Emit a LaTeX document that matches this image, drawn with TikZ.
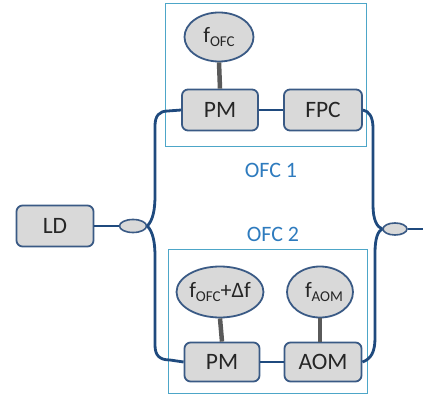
\documentclass[tikz,border=0pt]{standalone}
\usepackage{fontspec}
\setmainfont{Carlito}
\usetikzlibrary{shapes.geometric}
\definecolor{boxfill}{HTML}{D9D9D9}
\definecolor{boxline}{HTML}{3A5A85}
\definecolor{fiber}{HTML}{1F4A7E}
\definecolor{frameblue}{HTML}{4DA6C8}
\definecolor{labelblue}{HTML}{2E7BBE}
\definecolor{stemgray}{HTML}{5A5A5A}
\definecolor{inktext}{HTML}{262626}
\newcommand{\sbs}[1]{\raisebox{-0.35ex}{\fontsize{15}{15}\selectfont #1}}
\begin{document}
\begin{tikzpicture}[x=1pt,y=-1pt,
  device/.style={draw=boxline, line width=1.8pt, fill=boxfill, rounded corners=6pt,
    minimum height=41pt, inner sep=0pt, text=inktext, font=\fontsize{23.5}{23.5}\selectfont},
  source/.style={ellipse, draw=boxline, line width=1.8pt, fill=boxfill,
    inner sep=0pt, text=inktext, font=\fontsize{22}{22}\selectfont},
  coupler/.style={ellipse, draw=boxline, line width=1.6pt, fill=boxfill, inner sep=0pt},
  fibre/.style={draw=fiber, line width=2.8pt},
  stem/.style={draw=stemgray, line width=4.5pt},
  frame/.style={draw=frameblue, line width=1pt},
  combname/.style={text=labelblue, font=\fontsize{22}{22}\selectfont}]
\useasboundingbox (0,0) rectangle (423,395);

% comb frames
\node[frame, minimum width=201pt, minimum height=143pt, anchor=north west] (frame1) at (165,3) {};
\node[frame, minimum width=199pt, minimum height=144pt, anchor=north west] (frame2) at (168,249) {};
\node[combname] (lab1) at (271,170) {OFC 1};
\node[combname] (lab2) at (273,234) {OFC 2};

% devices
\node[device, minimum width=77pt] (ld) at (55,226) {LD};
\node[device, minimum width=76pt] (pm1) at (220,110) {PM};
\node[device, minimum width=78pt] (fpc) at (323,110) {FPC};
\node[device, minimum width=75pt, minimum height=39pt] (pm2) at (222,362) {PM};
\node[device, minimum width=77pt, minimum height=39pt] (aom) at (323,362) {AOM};

% RF sources
\node[source, minimum width=69pt, minimum height=49pt] (fofc) at (219,37) {f\sbs{OFC}};
\node[source, minimum width=71pt, minimum height=51pt] (fdelta) at (220,292) {f\sbs{OFC}+Δf};
\node[source, minimum width=66pt, minimum height=51pt] (faom) at (320,292) {\hspace{8pt}f\sbs{AOM}};

% couplers
\node[coupler, minimum width=27pt, minimum height=13pt] (spl) at (133,226) {};
\node[coupler, minimum width=24pt, minimum height=12pt] (comb) at (395,229) {};
\coordinate (out) at (423,229);

% RF drive stems
\draw[stem] (fofc.south) -- (pm1.north);
\draw[stem] (fdelta.south) -- (pm2.north);
\draw[stem] (faom.south) -- (aom.north -| faom.south);

% fibres
\draw[fibre] (ld.east) -- (spl.west);
\draw[fibre] (pm1.east) -- (fpc.west);
\draw[fibre] (pm2.east) -- (aom.west);
\draw[fibre] (comb.east) -- (out);
\draw[fibre] (spl.east) .. controls (153,220) and (155,210) .. (155,195)
  -- (155,126) .. controls (155,116) and (159,111) .. (168,111) -- (pm1.west);
\draw[fibre] (spl.east) .. controls (153,232) and (155,242) .. (155,257)
  -- (155,345) .. controls (155,355) and (159,360) .. (170,360) -- (pm2.west);
\draw[fibre] (fpc.east) .. controls (369,111) and (373,117) .. (373,128)
  -- (373,205) .. controls (373,220) and (377,227) .. (comb.west);
\draw[fibre] (aom.east) .. controls (371,359) and (375,352) .. (375,338)
  -- (375,253) .. controls (375,238) and (378,231) .. (comb.west);
\end{tikzpicture}
\end{document}
